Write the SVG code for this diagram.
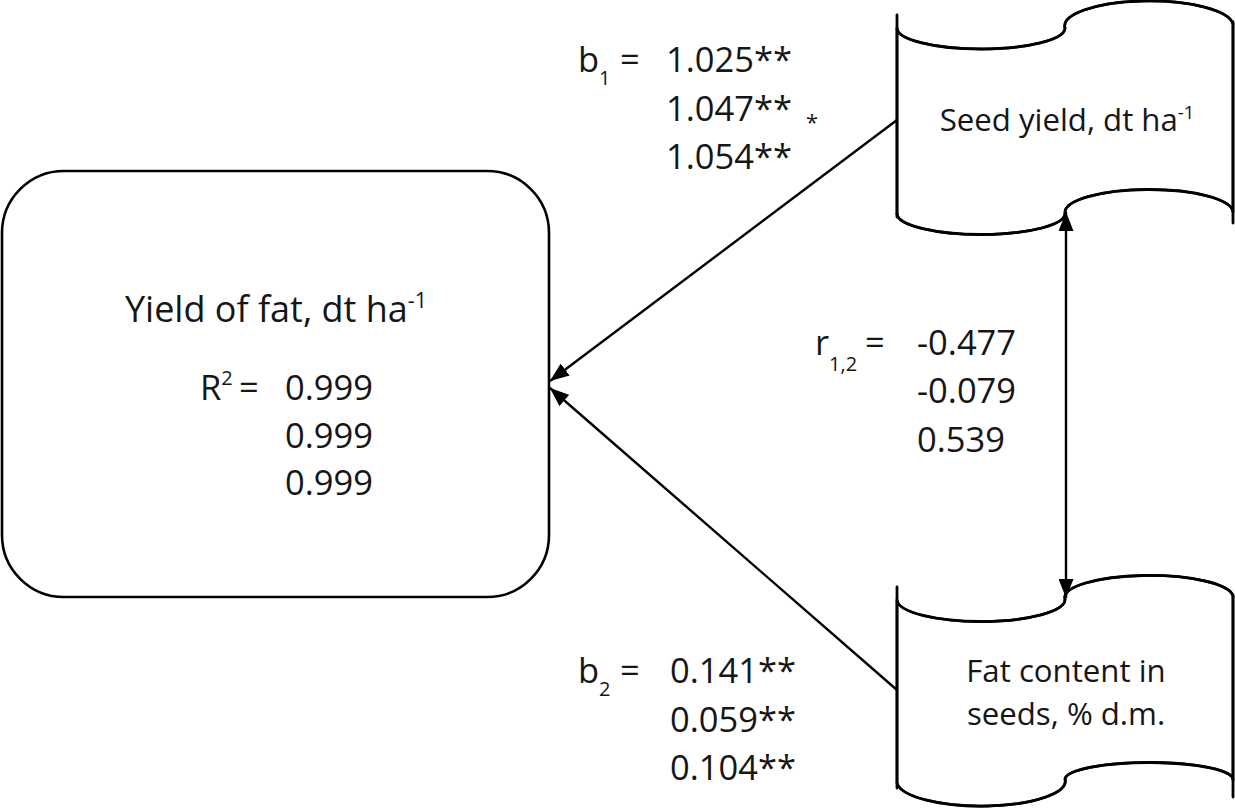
<svg xmlns="http://www.w3.org/2000/svg" width="1235" height="810" viewBox="0 0 1235 810">
<style>
  .t { font-family: "Open Sans", "Noto Sans", "Liberation Sans", sans-serif; fill: #161616; font-weight: 500; }
  .lbl { font-size: 34.5px; }
  .ttl { font-size: 36px; }
  .nd { font-size: 31.2px; }
  .shape { fill: #fff; stroke: #000; stroke-width: 2.6; }
  .edge { fill: none; stroke: #000; stroke-width: 2.8; stroke-linecap: round; }
  .conn { stroke: #000; stroke-width: 2.4; fill: none; }
</style>
<defs>
  <marker id="ah" viewBox="0 0 19 15" refX="19" refY="7.5" markerWidth="19" markerHeight="15" markerUnits="userSpaceOnUse" orient="auto-start-reverse">
    <path d="M0,0 L19,7.5 L0,15 z" fill="#000"/>
  </marker>
</defs>
<rect width="1235" height="810" fill="#fff"/>

<g id="node-yield-of-fat">
  <rect class="shape" x="2" y="171" width="547" height="426" rx="62" ry="62"/>
  <text class="t ttl" x="276" y="322" text-anchor="middle">Yield of fat, dt ha<tspan font-size="21.5" dy="-14">-1</tspan></text>
  <text class="t lbl" x="200" y="400">R<tspan font-size="20" dy="-15">2</tspan><tspan dy="15" x="239">=</tspan></text>
  <text class="t lbl" x="285" y="400">0.999</text>
  <text class="t lbl" x="285" y="448">0.999</text>
  <text class="t lbl" x="285" y="495">0.999</text>
</g>

<g id="node-seed-yield">
  <path class="shape" stroke="none" d="M897,28 A84,21 0 0 0 1065,28 A84,25 0 0 1 1233,24 L1233,212 A84,23 0 0 0 1065,213 A84,21 0 0 1 897,214 Z"/>
  <path class="edge" d="M897,28 A84,21 0 0 0 1065,28 A84,25 0 0 1 1233,24"/>
  <path class="edge" d="M897,214 A84,21 0 0 0 1065,213 A84,23 0 0 1 1233,212"/>
  <line class="edge" x1="897" y1="15" x2="897" y2="217"/>
  <line class="edge" x1="1233" y1="22" x2="1233" y2="223"/>
  <text class="t nd" x="1067" y="131" text-anchor="middle">Seed yield, dt ha<tspan font-size="18.5" dy="-12">-1</tspan></text>
</g>

<g id="node-fat-content">
  <path class="shape" stroke="none" d="M897,600 A84,22 0 0 0 1065,599 A84,22 0 0 1 1233,596 L1233,780 A84,17 0 0 0 1065,779 A84,25 0 0 1 897,783 Z"/>
  <path class="edge" d="M897,600 A84,22 0 0 0 1065,599 A84,22 0 0 1 1233,596"/>
  <path class="edge" d="M897,783 A84,25 0 0 0 1065,779 A84,17 0 0 1 1233,780"/>
  <line class="edge" x1="897" y1="587" x2="897" y2="788"/>
  <line class="edge" x1="1233" y1="595" x2="1233" y2="797"/>
  <text class="t nd" x="1066" y="682" text-anchor="middle">Fat content in</text>
  <text class="t nd" x="1066" y="725" text-anchor="middle">seeds, % d.m.</text>
</g>

<g id="connectors">
  <line class="conn" x1="897" y1="120" x2="550" y2="381" marker-end="url(#ah)"/>
  <line class="conn" x1="897" y1="690" x2="550" y2="388" marker-end="url(#ah)"/>
  <line class="conn" x1="1066" y1="212" x2="1066" y2="598" marker-start="url(#ah)" marker-end="url(#ah)"/>
</g>

<g id="label-b1">
  <text class="t lbl" x="578" y="72">b<tspan font-size="20" dy="13">1</tspan><tspan dy="-13" x="620">=</tspan></text>
  <text class="t lbl" x="666" y="72">1.025**</text>
  <text class="t lbl" x="666" y="121">1.047**</text>
  <text class="t lbl" x="666" y="169">1.054**</text>
  <text class="t" x="806" y="130" font-size="22" fill="#1e2c4a">*</text>
</g>

<g id="label-r12">
  <text class="t lbl" x="815" y="355">r<tspan font-size="20" dy="16">1,2</tspan><tspan dy="-16" x="865">=</tspan></text>
  <text class="t lbl" x="917" y="355">-0.477</text>
  <text class="t lbl" x="917" y="403">-0.079</text>
  <text class="t lbl" x="917" y="452">0.539</text>
</g>

<g id="label-b2">
  <text class="t lbl" x="578" y="683">b<tspan font-size="20" dy="13">2</tspan><tspan dy="-13" x="620">=</tspan></text>
  <text class="t lbl" x="670" y="683">0.141**</text>
  <text class="t lbl" x="670" y="732">0.059**</text>
  <text class="t lbl" x="670" y="780">0.104**</text>
</g>
</svg>
